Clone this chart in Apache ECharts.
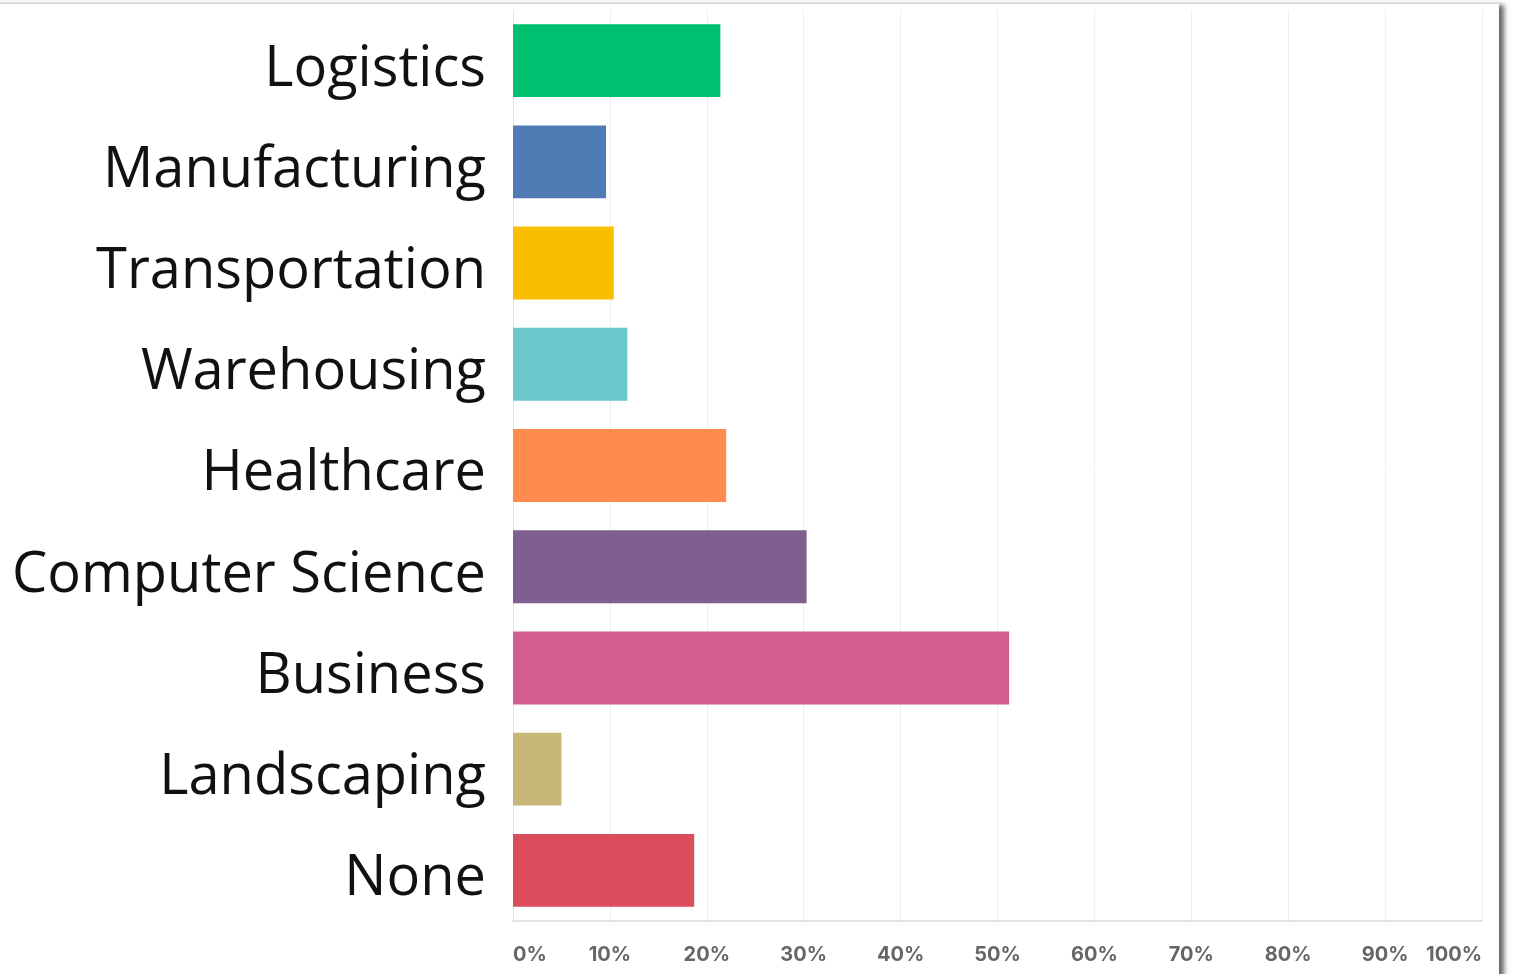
<!DOCTYPE html>
<html>
<head>
<meta charset="utf-8">
<script src="https://cdn.jsdelivr.net/npm/echarts@6/dist/echarts.min.js"></script>
<style>
  html, body { margin: 0; padding: 0; background: #ffffff; }
  #chart { width: 1514px; height: 974px; }
</style>
</head>
<body>
<div id="chart"></div>
<script>
// Share of respondents by field (percent)
const categories = ['Logistics', 'Manufacturing', 'Transportation', 'Warehousing', 'Healthcare',
                    'Computer Science', 'Business', 'Landscaping', 'None'];
const values = [21.4, 9.6, 10.4, 11.8, 22.0, 30.3, 51.2, 5.0, 18.7];
const barColors = ['#00BF6F', '#507CB6', '#F9BE00', '#6BC8CD', '#FF8B4F',
                   '#7F5F90', '#D25F90', '#C7B879', '#DB4D5C'];
const tickLabels = ['0%', '10%', '20%', '30%', '40%', '50%', '60%', '70%', '80%', '90%', '100%'];

const chart = echarts.init(document.getElementById('chart'), null, { renderer: 'canvas' });

chart.setOption({
  backgroundColor: '#ffffff',
  animation: false,
  graphic: [{
    type: 'rect',
    z: -10,
    shape: { x: -20, y: 4, width: 1519, height: 1000 },
    style: { fill: '#ffffff', shadowBlur: 5, shadowColor: 'rgba(0,0,0,0.6)', shadowOffsetX: 5, shadowOffsetY: 1 }
  }],
  grid: { left: 513, right: 32, top: 10, bottom: 53, containLabel: false },
  xAxis: {
    type: 'value',
    min: 0,
    max: 100,
    interval: 10,
    axisLine: { show: true, lineStyle: { color: '#d9d9d9', width: 1.5 } },
    axisTick: { show: false },
    splitLine: { show: true, lineStyle: { color: '#eeeeee', width: 1 } },
    axisLabel: {
      margin: 24,
      color: '#666666',
      fontFamily: 'Inter',
      fontWeight: 'bold',
      fontSize: 20,
      alignMinLabel: 'left',
      alignMaxLabel: 'right',
      formatter: (v) => tickLabels[Math.round(v / 10)]
    }
  },
  yAxis: {
    type: 'category',
    inverse: true,
    data: categories,
    axisLine: { show: true, lineStyle: { color: '#e6e6e6', width: 1 } },
    axisTick: { show: false },
    splitLine: { show: false },
    axisLabel: {
      margin: 27,
      formatter: (v) => '{name|' + v + '}',
      rich: {
        name: {
          color: '#111111',
          fontFamily: 'Open Sans',
          fontSize: 56,
          padding: [18, 0, 0, 0]
        }
      }
    }
  },
  series: [{
    type: 'bar',
    barCategoryGap: '28%',
    data: values.map((v, i) => ({ value: v, itemStyle: { color: barColors[i] } })),
    label: { show: false }
  }]
});
</script>
</body>
</html>
